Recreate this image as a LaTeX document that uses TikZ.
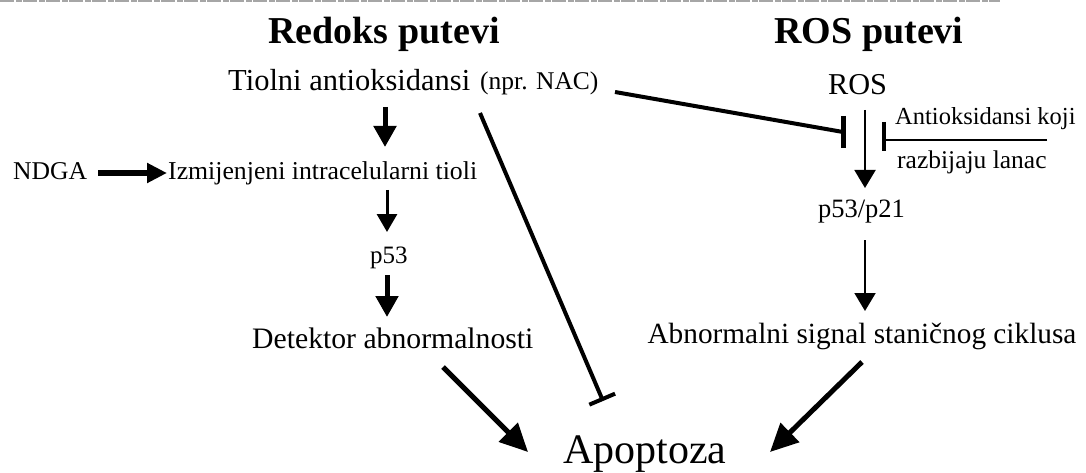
\documentclass[tikz,border=0pt]{standalone}
\usepackage{fontspec}
\setmainfont{Liberation Serif}
\usetikzlibrary{arrows.meta}
\begin{document}
\begin{tikzpicture}[x=1pt,y=-1pt,
  lbl/.style={inner sep=0pt,anchor=base west},
  lblc/.style={inner sep=0pt,anchor=base},
  fs/.style={font=\fontsize{#1}{#1}\selectfont},
  thickarr/.style={line width=5pt,-{Triangle[length=21pt,width=22pt]}},
  thinarr/.style={line width=2pt,-{Triangle[length=18pt,width=21pt]}},
  diagarr/.style={line width=5pt,-{Triangle[length=28pt,width=26pt]}},
  inhib/.style={line width=4pt,-{Bar[width=28pt,line width=4pt]}},
  barline/.style={line width=5pt},
]
\useasboundingbox (0,0) rectangle (1086,473);
% scan edge at the top
\draw[gray!70,line width=2pt,dash pattern=on 14pt off 2pt on 6pt off 1pt] (0,1.5) -- (1000,1.5);
% titles
\node[lblc,fs=38,font=\bfseries\fontsize{38}{38}\selectfont] (tL) at (384,44) {Redoks putevi};
\node[lblc,font=\bfseries\fontsize{38}{38}\selectfont] (tR) at (869,44) {ROS putevi};
% left column
\node[lbl,fs=30.5] (tiol) at (228,91) {Tiolni antioksidansi};
\node[lbl,fs=25.5] (nac) at (480,90) {(npr. NAC)};
\node[lbl,fs=25.6] (ndga) at (13,179) {NDGA};
\node[lbl,fs=25.75] (izm) at (168,179) {Izmijenjeni intracelularni tioli};
\node[lbl,fs=25] (p53) at (370,263) {p53};
\node[lbl,fs=29.7] (det) at (252,348) {Detektor abnormalnosti};
\node[lbl,fs=42] (apo) at (563,463) {Apoptoza};
% right column
\node[lblc,fs=30.3] (ros) at (857.5,95) {ROS};
\node[lbl,fs=24.5] (ao1) at (895,125) {Antioksidansi koji};
\node[lbl,fs=25.5] (ao2) at (897,168) {razbijaju lanac};
\node[lblc,fs=26.5] (pp) at (861.5,218) {p53/p21};
\node[lblc,fs=29.3] (abn) at (862,343) {Abnormalni signal staničnog ciklusa};
% connector end points
\coordinate (tiolOut) at (385,107);
\coordinate (izmIn) at (385,147);
\coordinate (izmOut) at (387,190);
\coordinate (p53In) at (387,232);
\coordinate (p53Out) at (387,275);
\coordinate (detIn) at (387,317);
\coordinate (ndgaOut) at (98,173);
\coordinate (izmL) at (167,173);
\coordinate (detOut) at (443,367);
\coordinate (apoL) at (528,452);
\coordinate (nacOut1) at (480,113);
\coordinate (apoT) at (603,401);
\coordinate (nacOut2) at (615,92);
\coordinate (barL) at (843,132);
\coordinate (barLt) at (843,116);
\coordinate (barLb) at (843,148);
\coordinate (rosOut) at (865,110);
\coordinate (ppIn) at (865,188);
\coordinate (aoOut) at (1047,140);
\coordinate (barR) at (884,140);
\coordinate (barRt) at (884,122);
\coordinate (barRb) at (884,151);
\coordinate (ppOut) at (865,240);
\coordinate (abnIn) at (865,311);
\coordinate (abnOut) at (862,362);
\coordinate (apoR) at (770,452);
% connectors
\draw[thickarr] (tiolOut) -- (izmIn);
\draw[line width=3pt,-{Triangle[length=18pt,width=20pt]}] (izmOut) -- (p53In);
\draw[thickarr] (p53Out) -- (detIn);
\draw[line width=6pt,-{Triangle[length=20pt,width=19pt]}] (ndgaOut) -- (izmL);
\draw[diagarr] (detOut) -- (apoL);
\draw[inhib] (nacOut1) -- (apoT);
\draw[line width=4pt] (nacOut2) -- (barL);
\draw[barline] (barLt) -- (barLb);
\draw[thinarr] (rosOut) -- (ppIn);
\draw[line width=2pt] (aoOut) -- (barR);
\draw[barline,line width=4pt] (barRt) -- (barRb);
\draw[thinarr] (ppOut) -- (abnIn);
\draw[diagarr] (abnOut) -- (apoR);
\end{tikzpicture}
\end{document}
